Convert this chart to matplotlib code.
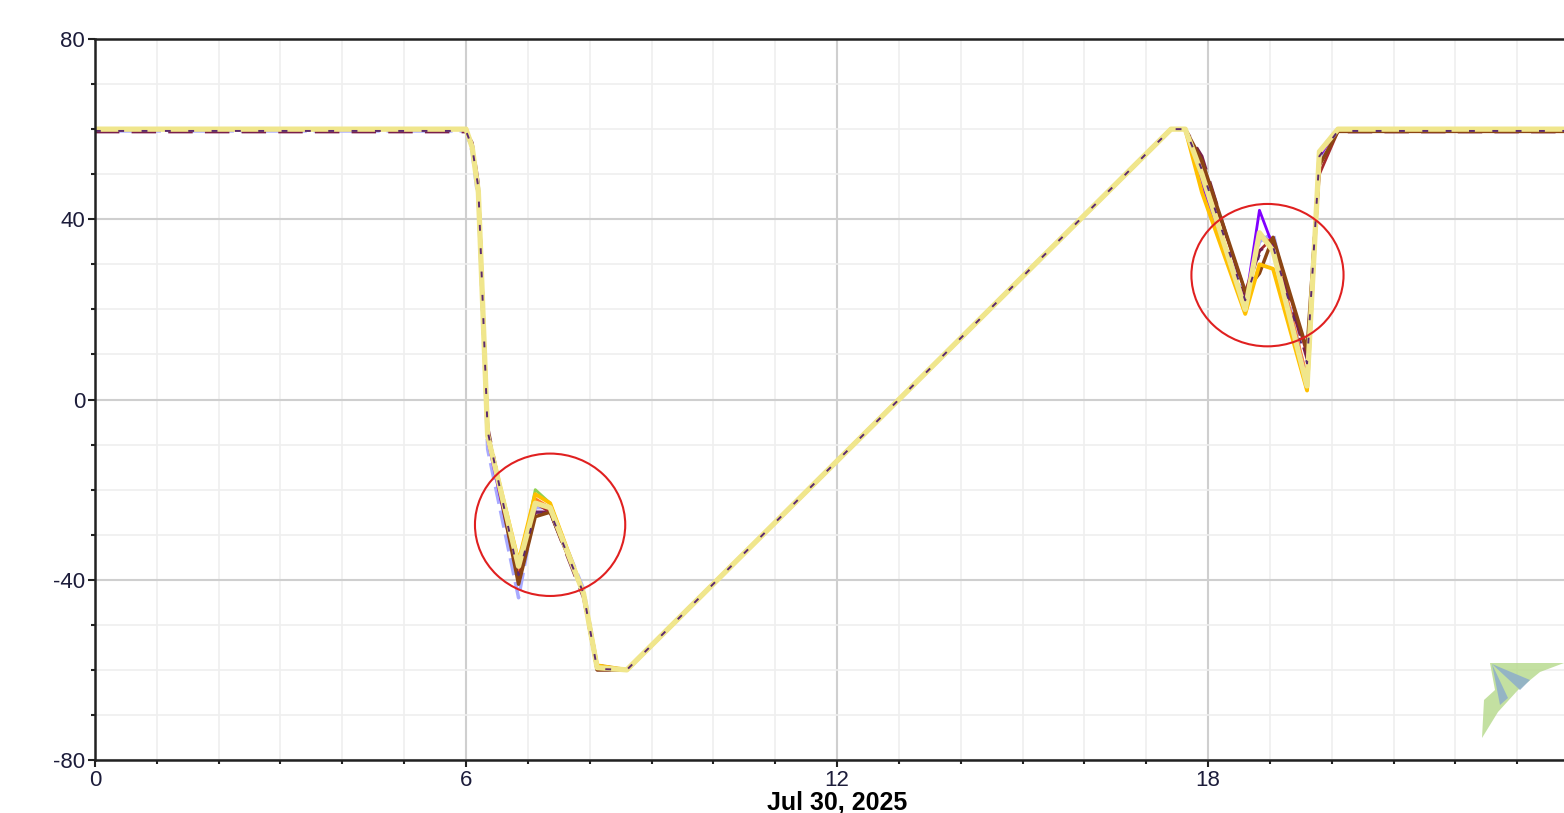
import matplotlib.pyplot as plt
from matplotlib.patches import Ellipse, Polygon
from matplotlib.ticker import MultipleLocator

plt.rcParams['font.family'] = ['Liberation Sans', 'DejaVu Sans']
plt.rcParams['axes.unicode_minus'] = False

# hours of Jul 30, 2025 and readings per sensor
hours = [0, 6.0, 6.1, 6.2, 6.35, 6.85, 7.12, 7.36, 7.9, 8.12, 8.6,
         17.4, 17.63, 17.9, 18.6, 18.83, 19.05, 19.6, 19.8, 20.1, 24]

lavender = [59.6, 59.6, 55, 44, -11, -44, -24, -24, -42, -59, -60,
            60, 60, 48, 22, 35, 37, 4, 53, 60, 60]
green = [60, 60, 56, 46, -8, -38, -20, -23, -43, -59, -60,
         60, 60, 48, 21, 37, 34, 4, 55, 60, 60]
orange = [60, 60, 56, 46, -8, -38, -22, -24, -43, -59, -60,
          60, 60, 49, 21, 36, 35, 5, 54, 60, 60]
purple = [60, 60, 56, 46, -9, -40, -25, -25, -43, -59, -60,
          60, 60, 47, 21, 42, 34, 4, 54, 60, 60]
darkred = [60, 60, 56, 47, -7, -40, -23, -25, -43, -59, -60,
           60, 60, 52, 24, 33, 36, 10, 50, 59.5, 59.5]
brown = [60, 60, 56, 47, -7, -41, -26, -25, -43, -60, -60,
         60, 60, 53, 24, 28, 36, 11, 52, 59.5, 59.5]
gold = [60, 60, 56, 46, -8, -36, -21, -23, -43, -59, -60,
        60, 60, 46, 19, 30, 29, 2, 55, 60, 60]
khaki = [60, 60, 56, 46, -8, -37, -23, -24, -43, -59.5, -60,
         60, 60, 50, 20, 37, 33, 3, 55, 60, 60]
maroon = [59.4, 59.4, 57, 48, -6, -40, -25, -25, -44, -60, -60,
          60, 60, 54, 23, 33, 35, 9, 55, 59.4, 59.4]
plum = [59.6, 59.6, 56, 47, -7, -39, -25, -25, -43, -59.8, -60,
        60, 60, 51, 22, 32, 34, 8, 54, 59.6, 59.6]

fig = plt.figure(figsize=(15.64, 8.13), dpi=100)
ax = fig.add_axes([0.0607, 0.0652, 0.949, 0.8868])

ax.plot(hours, lavender, color='#a8aaff', lw=2.5, ls=(0, (5, 2)))
ax.plot(hours, green, color='#8fd14f', lw=2)
ax.plot(hours, orange, color='#ff7f27', lw=2)
ax.plot(hours, purple, color='#8000ff', lw=2)
ax.plot(hours, darkred, color='#a52a2a', lw=2)
ax.plot(hours, maroon, color='#7a1f4a', lw=2.2, ls=(0, (8, 4)))
ax.plot(hours, brown, color='#8b4513', lw=2.5)
ax.plot(hours, gold, color='#ffc000', lw=2.8)
ax.plot(hours, khaki, color='#f0e68c', lw=3.8)
ax.plot(hours, plum, color='#5c2a6e', lw=1.4, ls=(0, (3, 9)))

# highlight circles
ax.add_patch(Ellipse((7.36, -27.8), 2.43, 31.6, fill=False, ec='#e02020', lw=1.5, zorder=5))
ax.add_patch(Ellipse((18.96, 27.6), 2.46, 31.6, fill=False, ec='#e02020', lw=1.5, zorder=5))

ax.set_xlim(0, 24)
ax.set_ylim(-80, 80)
ax.xaxis.set_major_locator(MultipleLocator(6))
ax.xaxis.set_minor_locator(MultipleLocator(1))
ax.yaxis.set_major_locator(MultipleLocator(40))
ax.yaxis.set_minor_locator(MultipleLocator(10))
ax.grid(which='major', color='#cfcfcf', lw=1.5)
ax.grid(which='minor', color='#efefef', lw=1.2)
ax.set_axisbelow(True)

for s in ['left', 'bottom', 'top']:
    ax.spines[s].set_color('#222222')
    ax.spines[s].set_linewidth(1.8)
ax.spines['right'].set_visible(False)
ax.tick_params(which='major', length=5, width=1.5, labelsize=16, pad=2,
               colors='#222222', labelcolor='#1c1c3a')
ax.tick_params(which='minor', length=3, width=1.5, colors='#222222')
ax.set_xticks([0, 6, 12, 18, 24])
ax.set_xticklabels(['0', '6', '12', '18', '24'])
ax.set_xlabel('Jul 30, 2025', fontsize=18, fontweight='bold', labelpad=0)

# faint logo in the corner
W, H = 1564, 813
def px(pts):
    return [(x / W, 1 - y / H) for x, y in pts]
fig.patches.append(Polygon(px([(1490, 663), (1564, 663), (1540, 672), (1518, 690),
                               (1498, 712), (1482, 738), (1484, 700), (1495, 690)]),
                           closed=True, transform=fig.transFigure, fc='#b5d98a', ec='none', alpha=0.8))
fig.patches.append(Polygon(px([(1492, 664), (1530, 680), (1520, 690)]),
                           closed=True, transform=fig.transFigure, fc='#8fb0c8', ec='none', alpha=0.9))
fig.patches.append(Polygon(px([(1492, 664), (1500, 705), (1508, 698)]),
                           closed=True, transform=fig.transFigure, fc='#8fb0c8', ec='none', alpha=0.9))

plt.savefig('out.png', dpi=100)
